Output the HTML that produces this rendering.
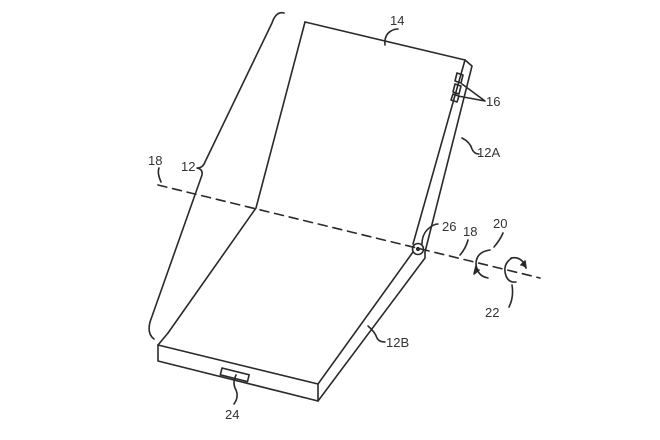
<!DOCTYPE html>
<html><head><style>body{margin:0;background:#fff}svg{display:block}text{font-family:"Liberation Sans",sans-serif;font-size:13px;fill:#333}</style></head><body>
<svg width="660" height="440" viewBox="0 0 660 440" fill="none" stroke="#2a2a2a" stroke-width="1.6" stroke-linecap="round" stroke-linejoin="round">
<path d="M305,22 L465,60 L472,66 L425,252"/>
<path d="M305,22 L256,208 L168,333"/>
<path d="M465,60 L413,244"/>
<path d="M158,345 L318,384 L413,252"/>
<path d="M158,345 L158,361 L318,401 L318,384"/>
<path d="M318,401 L425,258 L425,252"/>
<path d="M158,345 L168,333"/>
<circle cx="418" cy="249" r="5.5" fill="#fff"/>
<circle cx="418" cy="249" r="1.3" fill="#222"/>
<rect x="222" y="368" width="28" height="7" transform="rotate(14 222 368)"/>
<path d="M236,375 q-4,8 0,15 q3,7 -2,14"/>
<path d="M457,73 l6,2 l-2,8 l-6,-2 z M455,84 l6,2 l-2,8 l-6,-2 z M453,94 l6,2 l-2,6 l-6,-2 z"/>
<path d="M158,185 L540,278" stroke-dasharray="9,6"/>
<path d="M284,13 q-8,-2 -12,10 L205,162 q-2,6 -8,6 q6,1 5,7 L150,322 q-3,12 4,17"/>
<path d="M490,250 q-14,2 -14,14 q1,12 12,14"/>
<path d="M476,266 l-2,8 l5,-4" fill="#222"/>
<path d="M511,258 q11,-2 15,10"/>
<path d="M512,258 q-10,6 -6,18 q3,7 10,6"/>
<path d="M526,268 l-1,-7 l-4,4" fill="#222"/>
<path d="M385,45 q-1,-10 6,-14 q3,-2 7,-2"/>
<path d="M462,84 L485,101 M458,96 L485,101"/>
<path d="M462,138 q8,4 10,11 q2,5 7,5"/>
<path d="M159,168 q-2,5 2,14"/>
<path d="M422,244 q0,-12 10,-18 q3,-2 6,-2"/>
<path d="M460,255 q6,-7 8,-15"/>
<path d="M494,247 q6,-7 9,-14"/>
<path d="M512,285 q2,12 -3,22"/>
<path d="M368,326 q7,6 9,12 q2,4 8,4"/>
<g stroke="none">
<text x="390" y="25">14</text>
<text x="486" y="106">16</text>
<text x="477" y="157">12A</text>
<text x="148" y="165">18</text>
<text x="181" y="171">12</text>
<text x="442" y="231">26</text>
<text x="463" y="236">18</text>
<text x="493" y="228">20</text>
<text x="485" y="317">22</text>
<text x="386" y="347">12B</text>
<text x="225" y="419">24</text>
</g>
</svg>
</body></html>
